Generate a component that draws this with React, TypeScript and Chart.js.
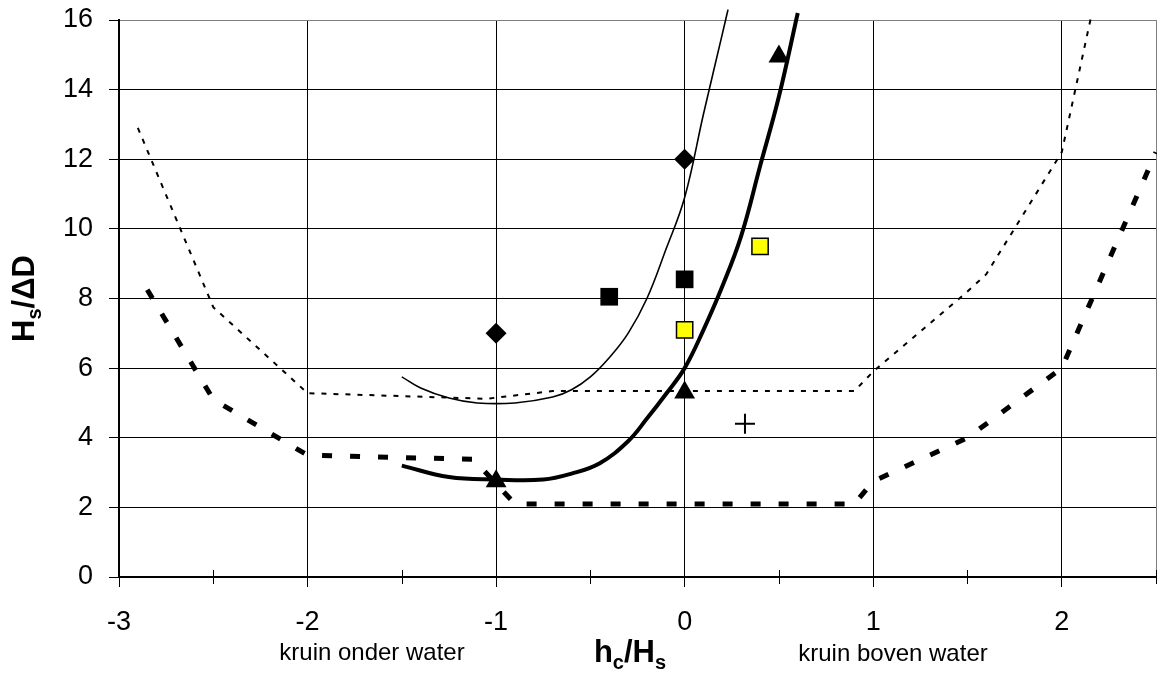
import React, { useEffect, useRef } from 'react';
import { Chart, registerables } from 'chart.js';

Chart.register(...registerables);

// ---------- data ----------
// thin dotted boundary line
const thinDotX = [-2.9, -2.5, -2.0, -1.05, -0.7, 0.9, 1.0, 1.5, 1.6, 2.0, 2.16];
const thinDotY = [12.9, 7.75, 5.28, 5.12, 5.34, 5.34, 5.9, 8.2, 8.7, 12.2, 16.2];

// thick dashed boundary line
const thickDashX = [-2.85, -2.5, -2.0, -1.12, -0.9, 0.9, 1.0, 1.5, 2.0, 2.5];
const thickDashY = [8.25, 5.1, 3.5, 3.38, 2.1, 2.1, 2.75, 4.0, 6.0, 12.2];

// thin solid curve
const thinSolidX = [-1.5, -1.4, -1.25, -1.1, -0.9, -0.7, -0.6, -0.5, -0.4, -0.3, -0.2, -0.1, 0, 0.1, 0.2, 0.23];
const thinSolidY = [5.75, 5.43, 5.14, 5.0, 5.0, 5.17, 5.38, 5.75, 6.3, 7.0, 8.0, 9.4, 10.9, 13.3, 15.6, 16.3];

// thick solid curve
const thickSolidX = [-1.5, -1.25, -1.0, -0.75, -0.6, -0.45, -0.3, -0.2, -0.1, 0, 0.1, 0.2, 0.3, 0.4, 0.5, 0.6];
const thickSolidY = [3.2, 2.87, 2.8, 2.8, 2.97, 3.27, 3.9, 4.55, 5.25, 6.0, 7.1, 8.35, 9.8, 11.8, 13.8, 16.2];

// measured points
const diamondX = [-1, 0];
const diamondY = [7.0, 12.0];
const blackSquareX = [-0.4, 0];
const blackSquareY = [8.05, 8.55];
const yellowSquareX = [0, 0.4];
const yellowSquareY = [7.1, 9.5];
const triangleX = [-1, 0, 0.5];
const triangleY = [2.75, 5.3, 14.95];
const plusX = [0.32];
const plusY = [4.4];

// axes
const xMin = -3;
const xMax = 2.5;
const xStep = 0.5;
const yMin = 0;
const yMax = 16;
const yStep = 2;

const xTitleParts = [
  { t: 'h', sub: false },
  { t: 'c', sub: true },
  { t: '/H', sub: false },
  { t: 's', sub: true },
];
const yTitleParts = [
  { t: 'H', sub: false },
  { t: 's', sub: true },
  { t: '/\u0394D', sub: false },
];
const leftNote = 'kruin onder water';
const rightNote = 'kruin boven water';

const FONT = "'Liberation Sans', Arial, Helvetica, sans-serif";

function pts(xs: number[], ys: number[]) {
  return xs.map((x, i) => ({ x, y: ys[i] }));
}

function drawParts(ctx: CanvasRenderingContext2D, parts: { t: string; sub: boolean }[], cx: number, baseline: number) {
  const main = `bold 31px ${FONT}`;
  const small = `bold 20px ${FONT}`;
  let total = 0;
  const widths = parts.map((p) => {
    ctx.font = p.sub ? small : main;
    const w = ctx.measureText(p.t).width;
    total += w;
    return w;
  });
  let x = cx - total / 2;
  ctx.textAlign = 'left';
  ctx.textBaseline = 'alphabetic';
  parts.forEach((p, i) => {
    ctx.font = p.sub ? small : main;
    ctx.fillText(p.t, x, baseline + (p.sub ? 7 : 0));
    x += widths[i];
  });
}

const decorPlugin = {
  id: 'decor',
  afterDraw(chart: any) {
    const ctx: CanvasRenderingContext2D = chart.ctx;
    const xs = chart.scales.x;
    const { bottom, top } = chart.chartArea;
    ctx.save();
    // minor ticks crossing the x axis
    ctx.strokeStyle = '#000';
    ctx.lineWidth = 1;
    for (let v = xMin + xStep; v <= xMax + 1e-9; v += 2 * xStep) {
      const px = Math.round(xs.getPixelForValue(v)) + 0.5;
      ctx.beginPath();
      ctx.moveTo(px, bottom - 7);
      ctx.lineTo(px, bottom + 7);
      ctx.stroke();
    }
    ctx.fillStyle = '#000';
    // x title
    drawParts(ctx, xTitleParts, 630, 662);
    // notes
    ctx.font = `24px ${FONT}`;
    ctx.textAlign = 'center';
    ctx.textBaseline = 'alphabetic';
    ctx.fillText(leftNote, 372, 660);
    ctx.fillText(rightNote, 893, 661);
    // y title (rotated)
    ctx.save();
    ctx.translate(12, (top + bottom) / 2);
    ctx.rotate(-Math.PI / 2);
    drawParts(ctx, yTitleParts, 0, 22);
    ctx.restore();
    ctx.restore();
  },
};

function zeroPad(s: any) {
  s.paddingTop = 0;
  s.paddingBottom = 0;
  s.paddingLeft = 0;
  s.paddingRight = 0;
}

export default function App() {
  const canvasRef = useRef<HTMLCanvasElement | null>(null);

  useEffect(() => {
    if (!canvasRef.current) return;
    const lineBase = {
      type: 'line' as const,
      pointRadius: 0,
      pointHoverRadius: 0,
      fill: false,
      clip: false as any,
      borderColor: '#000',
      borderCapStyle: 'butt' as const,
    };
    const pointBase = {
      type: 'line' as const,
      showLine: false,
      borderColor: '#000',
      backgroundColor: '#000',
    };
    const chart = new Chart(canvasRef.current, {
      type: 'line',
      data: {
        datasets: [
          { ...pointBase, label: 'plus', data: pts(plusX, plusY), pointStyle: 'cross', pointRadius: 10, pointBorderWidth: 2 },
          { ...pointBase, label: 'triangles', data: pts(triangleX, triangleY), pointStyle: 'triangle', pointRadius: 12, pointBorderWidth: 0 },
          { ...pointBase, label: 'yellow', data: pts(yellowSquareX, yellowSquareY), pointStyle: 'rect', pointRadius: 11.5, pointBorderWidth: 1.5, backgroundColor: '#ffff00', pointBackgroundColor: '#ffff00' },
          { ...pointBase, label: 'squares', data: pts(blackSquareX, blackSquareY), pointStyle: 'rect', pointRadius: 12.5, pointBorderWidth: 0 },
          { ...pointBase, label: 'diamonds', data: pts(diamondX, diamondY), pointStyle: 'rectRot', pointRadius: 10.5, pointBorderWidth: 0 },
          { ...lineBase, label: 'thin', data: pts(thinSolidX, thinSolidY), borderWidth: 1.6, tension: 0.4 },
          { ...lineBase, label: 'thick', data: pts(thickSolidX, thickSolidY), borderWidth: 4, tension: 0.4 },
          { ...lineBase, label: 'dotted', data: pts(thinDotX, thinDotY), borderWidth: 2, borderDash: [5, 7], tension: 0 },
          { ...lineBase, label: 'dashed', data: pts(thickDashX, thickDashY), borderWidth: 5, borderDash: [10, 18], tension: 0 },
        ] as any,
      },
      options: {
        animation: false,
        responsive: true,
        maintainAspectRatio: false,
        events: [],
        layout: { autoPadding: false, padding: { top: 20, right: 1, left: 0, bottom: 0 } },
        plugins: { legend: { display: false }, tooltip: { enabled: false }, title: { display: false } },
        scales: {
          x: {
            type: 'linear',
            min: xMin,
            max: xMax,
            afterFit: (s: any) => { s.height = 100; zeroPad(s); },
            border: { display: true, color: '#000', width: 2 },
            grid: {
              color: (c: any) => {
                const v = c.tick ? c.tick.value : 0;
                if (Math.abs(v - xMax) < 1e-9) return '#808080';
                return Number.isInteger(v) ? '#000' : 'rgba(0,0,0,0)';
              },
              tickColor: (c: any) => {
                const v = c.tick ? c.tick.value : 0;
                return Number.isInteger(v) ? '#000' : 'rgba(0,0,0,0)';
              },
              lineWidth: 1,
              tickLength: 10,
              drawTicks: true,
            },
            ticks: {
              stepSize: xStep,
              autoSkip: false,
              maxRotation: 0,
              padding: 19,
              color: '#000',
              font: { family: FONT, size: 27 },
              callback: (v: any) => (Number.isInteger(Number(v)) ? String(v) : ''),
            },
          },
          y: {
            type: 'linear',
            min: yMin,
            max: yMax,
            afterFit: (s: any) => { s.width = 119; zeroPad(s); },
            border: { display: true, color: '#000', width: 2 },
            grid: {
              color: (c: any) => {
                const v = c.tick ? c.tick.value : 0;
                return v === yMax ? '#808080' : '#000';
              },
              tickColor: '#000',
              lineWidth: 1,
              tickLength: 10,
            },
            ticks: {
              stepSize: yStep,
              padding: 16,
              color: '#000',
              font: { family: FONT, size: 27 },
            },
          },
        },
      } as any,
      plugins: [decorPlugin],
    });
    return () => chart.destroy();
  }, []);

  return (
    <div style={{ position: 'absolute', left: 0, top: 0, width: 1157, height: 677, background: '#fff' }}>
      <canvas ref={canvasRef} style={{ display: 'block' }} />
    </div>
  );
}
